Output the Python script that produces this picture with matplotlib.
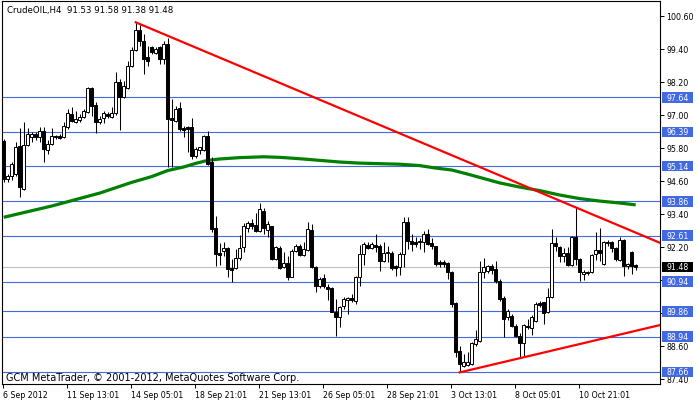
import matplotlib
matplotlib.use("Agg")
import matplotlib.pyplot as plt
from matplotlib.patches import Rectangle
from matplotlib.transforms import blended_transform_factory
import numpy as np

# CrudeOIL H4 candles (bar index 0 = 6 Sep 2012)
opens = [96.07, 94.67, 94.78, 94.85, 95.88, 94.31, 95.91, 96.19, 96.31, 96.20,
         96.42, 95.74, 95.95, 96.25, 96.24, 96.20, 96.57, 97.04, 96.76, 96.82,
         96.92, 97.11, 97.98, 97.37, 96.75, 96.89, 97.04, 96.93, 97.07, 98.20,
         97.67, 97.98, 98.78, 99.37, 100.09, 99.70, 99.11, 99.47, 99.25, 99.47,
         99.04, 99.58, 96.88, 96.79, 97.25, 96.53, 96.56, 96.56, 95.52, 95.74,
         95.74, 96.24, 95.28, 92.89, 91.98, 92.05, 92.16, 91.45, 91.44, 91.80,
         92.20, 92.89, 93.07, 93.00, 92.79, 93.52, 92.83, 92.96, 91.76, 92.16,
         91.47, 91.62, 91.12, 92.05, 92.24, 91.91, 92.10, 92.83, 91.47, 90.78,
         91.07, 90.75, 90.71, 89.84, 89.65, 90.07, 90.27, 90.35, 90.25, 91.11,
         91.95, 92.27, 92.15, 92.27, 92.25, 91.68, 91.98, 91.98, 91.51, 91.46,
         91.95, 93.10, 92.43, 92.39, 92.37, 92.39, 92.67, 92.33, 92.22, 91.64,
         91.64, 91.61, 91.28, 90.16, 88.43, 87.88, 87.91, 87.95, 88.67, 88.79,
         91.28, 91.34, 91.51, 91.40, 90.96, 90.35, 89.65, 89.69, 89.33, 88.96,
         88.71, 89.34, 89.24, 89.52, 90.15, 90.19, 89.83, 90.37, 92.35, 92.19,
         91.86, 91.98, 91.55, 92.55, 91.76, 91.21, 91.30, 91.28, 91.93, 92.09,
         91.58, 92.35, 92.37, 92.15, 91.74, 92.47, 91.50, 92.03, 91.53]
highs = [96.13, 94.85, 95.29, 96.02, 96.53, 96.75, 96.53, 96.38, 96.38, 96.56,
         96.56, 96.09, 96.53, 96.28, 96.31, 96.75, 97.22, 97.29, 97.15, 97.04,
         97.22, 98.03, 98.03, 97.47, 96.96, 97.15, 97.11, 97.29, 98.56, 98.31,
         98.25, 98.97, 99.47, 100.33, 100.27, 99.95, 99.52, 99.52, 99.47, 99.52,
         99.69, 99.79, 97.58, 97.34, 97.47, 96.61, 96.61, 96.89, 95.84, 95.84,
         96.27, 96.43, 95.47, 93.34, 92.35, 92.38, 92.20, 91.76, 92.13, 92.64,
         93.07, 93.16, 93.22, 93.44, 93.80, 93.62, 93.16, 92.97, 92.24, 92.24,
         92.02, 91.88, 92.13, 92.31, 92.31, 92.38, 93.12, 93.04, 91.51, 91.11,
         91.22, 90.85, 90.75, 90.31, 90.07, 90.38, 90.38, 90.49, 91.16, 92.27,
         92.38, 92.38, 92.39, 92.67, 92.31, 92.39, 92.24, 92.07, 91.55, 92.02,
         93.29, 93.29, 92.67, 92.55, 92.52, 92.79, 92.85, 92.52, 92.25, 91.74,
         91.73, 91.67, 91.34, 90.20, 88.61, 88.31, 88.38, 88.75, 89.18, 91.70,
         91.80, 91.55, 91.58, 91.69, 91.04, 90.42, 89.95, 89.76, 89.40, 89.07,
         89.40, 89.58, 89.73, 90.20, 90.25, 90.21, 90.70, 92.85, 92.55, 92.22,
         92.15, 92.19, 92.61, 93.64, 91.79, 91.38, 91.34, 91.95, 92.73, 92.88,
         92.43, 92.47, 92.43, 92.19, 92.55, 92.49, 91.62, 92.07, 91.58]
lows = [94.56, 94.56, 94.64, 94.78, 94.03, 94.27, 95.87, 96.02, 96.09, 96.02,
        95.29, 95.58, 95.91, 96.13, 96.13, 96.16, 96.49, 96.75, 96.71, 96.75,
        96.89, 97.08, 96.97, 96.35, 96.67, 96.71, 96.89, 96.89, 97.01, 96.45,
        97.62, 97.95, 98.75, 99.34, 99.51, 98.49, 98.79, 99.22, 99.22, 98.85,
        98.85, 95.11, 95.11, 96.73, 96.43, 96.20, 95.67, 95.40, 95.44, 95.58,
        95.69, 95.18, 92.73, 91.51, 91.55, 91.87, 91.11, 90.94, 91.40, 91.73,
        92.02, 92.75, 92.85, 92.75, 92.76, 92.67, 92.56, 91.74, 91.73, 91.40,
        91.44, 91.01, 91.11, 92.02, 91.88, 91.88, 92.07, 91.44, 90.57, 90.71,
        90.71, 90.28, 89.84, 88.95, 89.30, 89.95, 89.76, 90.20, 90.13, 90.78,
        91.55, 92.13, 92.13, 92.02, 91.34, 91.64, 91.65, 91.38, 91.16, 91.18,
        91.47, 92.13, 92.07, 92.19, 92.13, 92.02, 92.27, 92.13, 91.52, 91.46,
        91.46, 91.04, 90.01, 88.19, 87.64, 87.84, 87.88, 87.91, 88.61, 88.76,
        91.07, 91.25, 91.22, 90.89, 90.24, 88.93, 89.55, 89.29, 88.93, 88.19,
        88.19, 89.22, 89.00, 89.48, 90.01, 89.40, 89.80, 90.33, 92.07, 91.64,
        91.64, 91.52, 91.52, 91.55, 90.97, 91.01, 91.18, 91.25, 91.74, 91.70,
        91.55, 92.22, 92.01, 91.70, 91.70, 91.13, 91.40, 91.22, 91.38]
closes = [94.67, 94.79, 95.22, 95.84, 94.37, 95.91, 96.31, 96.31, 96.20, 96.42,
          95.76, 95.95, 96.25, 96.19, 96.16, 96.60, 97.07, 96.79, 96.85, 96.93,
          97.16, 97.98, 97.34, 96.76, 96.85, 97.07, 96.96, 97.07, 98.20, 97.67,
          98.07, 98.78, 99.36, 100.10, 99.69, 99.04, 98.96, 99.29, 99.40, 99.04,
          99.58, 96.85, 96.83, 97.22, 96.49, 96.47, 96.49, 95.52, 95.76, 95.84,
          96.24, 95.22, 92.85, 91.95, 91.91, 92.16, 91.40, 91.38, 91.80, 92.16,
          92.96, 93.07, 92.97, 92.79, 93.58, 92.88, 93.04, 91.76, 92.20, 91.44,
          91.62, 91.11, 92.07, 92.24, 91.91, 92.13, 92.85, 91.46, 90.78, 91.04,
          90.78, 90.67, 89.85, 89.65, 90.02, 90.31, 90.35, 90.27, 91.11, 91.95,
          92.31, 92.15, 92.31, 92.21, 91.68, 91.98, 92.02, 91.44, 91.44, 91.95,
          93.10, 92.43, 92.31, 92.31, 92.43, 92.67, 92.31, 92.22, 91.58, 91.58,
          91.58, 91.28, 90.13, 88.39, 87.95, 88.03, 88.03, 88.71, 88.85, 91.30,
          91.46, 91.52, 91.36, 90.96, 90.31, 89.58, 89.87, 89.33, 88.96, 88.71,
          89.36, 89.28, 89.67, 90.13, 90.10, 89.80, 90.37, 92.35, 92.22, 91.88,
          91.97, 91.55, 92.55, 91.76, 91.28, 91.30, 91.24, 91.91, 92.09, 91.97,
          92.39, 92.39, 92.15, 91.76, 92.45, 91.50, 91.58, 91.52, 91.48]

# moving average, read at a number of bars
ma_bars = [0, 12, 24, 32, 37, 41, 45, 48, 51, 54, 59, 65, 69, 74, 79, 84, 89,
           94, 99, 104, 108, 112, 116, 120, 124, 129, 134, 139, 144, 149, 154, 158]
ma_vals = [93.28, 93.69, 94.16, 94.55, 94.76, 94.98, 95.11, 95.24, 95.35, 95.40,
           95.45, 95.48, 95.46, 95.41, 95.35, 95.29, 95.25, 95.23, 95.21, 95.16,
           95.07, 95.00, 94.85, 94.69, 94.53, 94.38, 94.25, 94.09, 93.96, 93.87,
           93.80, 93.73]

# trend lines (bar, price) anchors
upper_trend = [(33, 100.37), (143, 93.64)]
lower_trend = [(114, 87.64), (130, 88.19)]

levels = [97.64, 96.39, 95.14, 93.86, 92.61, 90.94, 89.86, 88.94, 87.66]
last_price = 91.48

yticks = [100.6, 99.4, 98.2, 97.0, 95.8, 94.6, 93.4, 92.2, 91.0, 89.8, 88.6, 87.4]
hidden_ticks = [91.0, 89.8]  # covered by the level boxes
xtick_bars = [0, 16, 32, 48, 64, 80, 96, 112, 128, 144]
xtick_labels = ["6 Sep 2012", "11 Sep 13:01", "14 Sep 05:01", "18 Sep 21:01",
                "21 Sep 13:01", "26 Sep 05:01", "28 Sep 21:01", "3 Oct 13:01",
                "8 Oct 05:01", "10 Oct 21:01"]

plt.rcParams['font.family'] = ['DejaVu Sans']
FS = 5.7
BLUE = '#4169E1'

W, H = 700, 402
fig = plt.figure(figsize=(W / 100, H / 100), dpi=100)
fig.patch.set_facecolor('white')
ax = fig.add_axes([2 / W, 17 / H, 658 / W, 383 / H])
ax.set_facecolor('white')

o = np.array(opens)
h = np.array(highs)
l = np.array(lows)
c = np.array(closes)
bars = np.arange(len(o))

ax.set_xlim(-0.425, 164.075)
ax.set_ylim(87.218, 101.145)

# level lines
for lv in levels:
    ax.axhline(lv, color=BLUE, lw=0.8, zorder=1)
ax.axhline(last_price, color='#C0C0C0', lw=0.8, zorder=1)

# moving average
ax.plot(ma_bars, ma_vals, color='#008000', lw=2.3, zorder=2,
        solid_capstyle='butt', solid_joinstyle='round')

# candles
ax.vlines(bars, l, h, color='black', lw=0.75, zorder=3)
up = c >= o
body_lo = np.minimum(o, c)
body_h = np.maximum(np.abs(c - o), 0.02)
ax.bar(bars[up], body_h[up], bottom=body_lo[up], width=0.62,
       facecolor='white', edgecolor='black', linewidth=0.7, zorder=4)
ax.bar(bars[~up], body_h[~up], bottom=body_lo[~up], width=0.62,
       facecolor='black', edgecolor='black', linewidth=0.7, zorder=4)

# trend lines, extended to the right edge
x_end = ax.get_xlim()[1]
for (b0, p0), (b1, p1) in [upper_trend, lower_trend]:
    slope = (p1 - p0) / (b1 - b0)
    ax.plot([b0, x_end], [p0, p0 + slope * (x_end - b0)], color='#FF0000',
            lw=1.6, zorder=5, clip_on=True)

# axes styling
for sp in ax.spines.values():
    sp.set_color('black')
    sp.set_linewidth(0.8)
ax.yaxis.tick_right()
ax.set_yticks(yticks)
ax.set_yticklabels(["" if v in hidden_ticks else f"{v:.2f}" for v in yticks])
ax.tick_params(axis='y', direction='out', length=3, width=0.7, pad=1.5,
               labelsize=FS, colors='black')
ax.set_xticks([b - 0.25 for b in xtick_bars])
ax.set_xticklabels(xtick_labels, ha='left')
ax.tick_params(axis='x', direction='out', length=3, width=0.7, pad=1.0,
               labelsize=FS, colors='black')

# price labels on the right
trans = blended_transform_factory(ax.transAxes, ax.transData)
box_w = 31.5 / 658
box_h = 10.5 / 27.5
for lv in levels + [last_price]:
    col = 'black' if lv == last_price else BLUE
    ax.add_patch(Rectangle((1.003, lv - box_h / 2), box_w, box_h, transform=trans,
                           facecolor=col, edgecolor='none', clip_on=False, zorder=6))
    ax.text(1.003 + box_w / 2, lv, f"{lv:.2f}", transform=trans, ha='center',
            va='center', color='white', fontsize=FS, clip_on=False, zorder=7)

# header and copyright
ax.text(5 / 658, 1 - 9 / 383, "CrudeOIL,H4  91.53 91.58 91.38 91.48",
        transform=ax.transAxes, ha='left', va='center', fontsize=6.2, zorder=8)
ax.text(4 / 658, 7 / 383, "GCM MetaTrader, \u00a9 2001-2012, MetaQuotes Software Corp.",
        transform=ax.transAxes, ha='left', va='center', fontsize=7.0, zorder=8)

fig.savefig("out.png", dpi=100, facecolor='white')
